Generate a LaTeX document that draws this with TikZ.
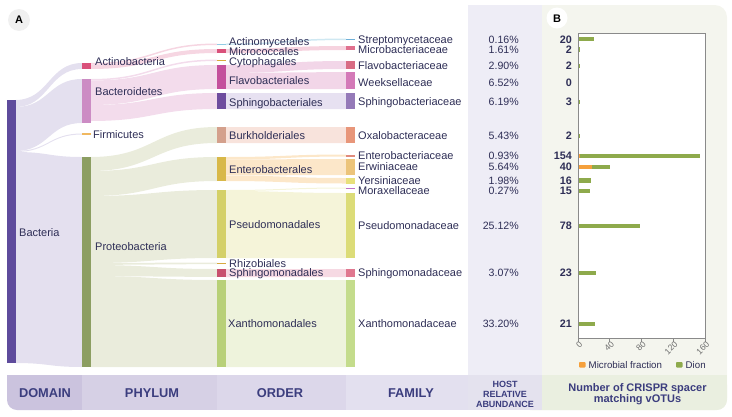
\documentclass[tikz,border=0pt]{standalone}
\usepackage{fontspec}
\setmainfont{Liberation Sans}
\definecolor{txt}{HTML}{2E2E56}
\definecolor{foottxt}{HTML}{3B3D7E}
\definecolor{hostbg}{HTML}{EEEDF6}
\definecolor{hostft}{HTML}{E4E2EE}
\definecolor{bpanel}{HTML}{F4F5EE}
\definecolor{bfoot}{HTML}{EAEFE0}
\definecolor{ftdom}{HTML}{CBC3DE}
\definecolor{ftphy}{HTML}{D6D0E5}
\definecolor{ftord}{HTML}{DCD7EA}
\definecolor{ftfam}{HTML}{E3E0EF}
\definecolor{barorange}{HTML}{F5A03C}
\definecolor{bargreen}{HTML}{8EAA4C}
\definecolor{axisgray}{HTML}{8A8A8A}
\definecolor{dombar}{HTML}{5E4B9C}
\tikzset{
  lbl/.style={font=\fontsize{11}{12}\selectfont, text=txt, inner sep=0pt, anchor=west, text height=7.9pt, text depth=0pt},
  pct/.style={font=\fontsize{10.6}{11}\selectfont, text=txt, inner sep=0pt, anchor=east, text height=7.6pt, text depth=0pt},
  cnt/.style={font=\bfseries\fontsize{10.8}{11}\selectfont, text=txt, inner sep=0pt, anchor=east, text height=7.7pt, text depth=0pt},
  foot/.style={font=\bfseries\fontsize{12.8}{13}\selectfont, text=foottxt, inner sep=0pt, align=center},
  tick/.style={font=\fontsize{8.5}{9}\selectfont, text=axisgray!80!black, inner sep=0pt, anchor=east, rotate=45},
}
\newcommand\flowband[7]{\definecolor{tmpflow}{HTML}{#7}\fill[tmpflow] (#1,#2) .. controls ({(#1+#4)/2},#2) and ({(#1+#4)/2},#5) .. (#4,#5) -- (#4,#6) .. controls ({(#1+#4)/2},#6) and ({(#1+#4)/2},#3) .. (#1,#3) -- cycle;}
\newcommand\nbar[4]{\definecolor{tmpbar}{HTML}{#4}\fill[tmpbar] (#1,#2) rectangle ({#1+8.5},#3);}
\begin{document}
\begin{tikzpicture}[x=1pt,y=-1pt]
\useasboundingbox (0,0) rectangle (732,416);
% panels
\fill[bpanel, rounded corners=12pt] (520,5) rectangle (727,410);
\fill[bfoot, rounded corners=10pt] (520,375) rectangle (727,410);
\fill[bfoot] (600,375) rectangle (727,392);
\fill[hostbg] (468,5) rectangle (542,375);
\fill[hostft] (468,375) rectangle (542,410);
\fill[ftdom] (7,375) rectangle (82,392);
\fill[ftdom, rounded corners=10pt] (7,380) -- (7,410) -- (82,410) -- (82,380) -- cycle;
\fill[ftdom] (60,380) rectangle (82,410);
\fill[ftphy] (82,375) rectangle (217,410);
\fill[ftord] (217,375) rectangle (346,410);
\fill[ftfam] (346,375) rectangle (468,410);
% panel letters
\fill[black!6] (19,20) circle (11pt);
\node[font=\bfseries\fontsize{11}{12}\selectfont, inner sep=0pt] (lA) at (19,20) {A};
\fill[white] (557,18) circle (10.5pt);
\node[font=\bfseries\fontsize{11}{12}\selectfont, inner sep=0pt] (lB) at (557,18.5) {B};
% domain -> phylum flows
\flowband{15.5}{100}{107}{82}{63}{69}{E4E0EF}
\flowband{15.5}{107}{151}{82}{79}{123}{E4E0EF}
\flowband{15.5}{151}{152}{82}{133.5}{134.5}{E4E0EF}
\flowband{15.5}{152}{363}{82}{157}{367}{E4E0EF}
% phylum -> order flows
\flowband{90.5}{63}{64.5}{217}{43.5}{45}{F6D6E2}
\flowband{90.5}{64.5}{69}{217}{49}{53}{F6D6E2}
\flowband{90.5}{79}{80.5}{217}{59.5}{61}{F3DCEC}
\flowband{90.5}{80.5}{105}{217}{65}{89}{F3DCEC}
\flowband{90.5}{105}{121}{217}{93}{109}{F3DCEC}
\flowband{90.5}{157}{171}{217}{127}{143}{EAECDC}
\flowband{90.5}{171}{196}{217}{157}{181}{EAECDC}
\flowband{90.5}{196}{263}{217}{190}{258}{EAECDC}
\flowband{90.5}{263}{265}{217}{262.5}{264}{EAECDC}
\flowband{90.5}{265}{276}{217}{269}{277}{EAECDC}
\flowband{90.5}{276}{367}{217}{280}{367}{EAECDC}
% order -> family flows
\flowband{225.5}{43.5}{45}{346}{38.5}{40}{CFE8F2}
\flowband{225.5}{49}{53}{346}{46}{50}{F6D3DF}
\flowband{225.5}{65}{73}{346}{61}{69}{F2D6E8}
\flowband{225.5}{73}{89}{346}{72}{89}{F2D6E8}
\flowband{225.5}{93}{109}{346}{93}{109}{E7E1F1}
\flowband{225.5}{127}{143}{346}{127}{143}{F8E3DC}
\flowband{225.5}{157}{159.5}{346}{154.5}{156.5}{FCE7C9}
\flowband{225.5}{159.5}{175.5}{346}{159}{175}{FCE7C9}
\flowband{225.5}{175.5}{181}{346}{178}{183.5}{FCE7C9}
\flowband{225.5}{190}{191}{346}{187.5}{188.5}{F5F4D9}
\flowband{225.5}{191}{258}{346}{193}{258}{F5F4D9}
\flowband{225.5}{269}{277}{346}{269}{277}{F6D9E3}
\flowband{225.5}{280}{367}{346}{280}{367}{EEF3DC}
% domain bar
\fill[dombar] (7,100) rectangle (15.5,363);
% phylum bars
\nbar{82}{63}{69}{D9507A}
\nbar{82}{79}{123}{CC8CC4}
\nbar{82}{133.3}{134.7}{F0B860}
\nbar{82}{157}{367}{8C9E62}
% order bars
\nbar{217}{43.5}{45}{90CCE4}
\nbar{217}{49}{53}{D9507A}
\nbar{217}{59.5}{61}{D8AA3A}
\nbar{217}{65}{89}{C4509C}
\nbar{217}{93}{109}{6E4C9E}
\nbar{217}{127}{143}{D4A08C}
\nbar{217}{157}{181}{D8B848}
\nbar{217}{190}{258}{D4D068}
\nbar{217}{262.5}{264}{D8AA40}
\nbar{217}{269}{277}{C8506E}
\nbar{217}{280}{367}{B8D078}
% family bars
\nbar{346}{38.5}{40}{6FB0D8}
\nbar{346}{46}{50}{E0708E}
\nbar{346}{61}{69}{D86C84}
\nbar{346}{72}{89}{D47AB8}
\nbar{346}{93}{109}{957AB8}
\nbar{346}{127}{143}{E8967A}
\nbar{346}{154.5}{156.5}{E08A7C}
\nbar{346}{159}{175}{ECC47A}
\nbar{346}{178}{183.5}{E8E07A}
\nbar{346}{187.5}{188.7}{C070C8}
\nbar{346}{193}{258}{DCDC78}
\nbar{346}{269}{277}{E07890}
\nbar{346}{280}{367}{C4DC8C}
% labels
\node[lbl] (bac) at (19,233) {Bacteria};
\node[lbl] (p1) at (95,62) {Actinobacteria};
\node[lbl] (p2) at (95,92) {Bacteroidetes};
\node[lbl] (p3) at (93,135) {Firmicutes};
\node[lbl] (p4) at (95,247) {Proteobacteria};
\node[lbl] (o1) at (229,42) {Actinomycetales};
\node[lbl] (o2) at (229,51.5) {Micrococcales};
\node[lbl] (o3) at (229,62) {Cytophagales};
\node[lbl] (o4) at (229,80.5) {Flavobacteriales};
\node[lbl] (o5) at (229,102.5) {Sphingobacteriales};
\node[lbl] (o6) at (229,135.5) {Burkholderiales};
\node[lbl] (o7) at (229,170) {Enterobacterales};
\node[lbl] (o8) at (229,225) {Pseudomonadales};
\node[lbl] (o9) at (229,264) {Rhizobiales};
\node[lbl] (o10) at (229,273) {Sphingomonadales};
\node[lbl] (o11) at (228,324) {Xanthomonadales};
\foreach \y/\fam/\pc/\n [count=\i] in {39.5/Streptomycetaceae/0.16/20, 50/Microbacteriaceae/1.61/2, 66/Flavobacteriaceae/2.90/2, 82.5/Weeksellaceae/6.52/0, 102/Sphingobacteriaceae/6.19/3, 136/Oxalobacteraceae/5.43/2, 156/Enterobacteriaceae/0.93/154, 167/Erwiniaceae/5.64/40, 180.5/Yersiniaceae/1.98/16, 191/Moraxellaceae/0.27/15, 226/Pseudomonadaceae/25.12/78, 273/Sphingomonadaceae/3.07/23, 324/Xanthomonadaceae/33.20/21}{
  \node[lbl] (f\i) at (358,\y) {\fam};
  \node[pct] (pc\i) at (519,\y) {\pc\%};
  \node[cnt] (n\i) at (572,\y) {\n};
}
% plot
\fill[white] (578,33) rectangle (705,338);
\foreach \y/\o/\g in {39/0/20, 49.5/0/2, 66/1/1, 102/0/3, 136/0/2, 156/2/152, 167/18/22, 180.5/0/16, 191/0/15, 226/0/78, 273/0/23, 324/0/21}{
  \fill[bargreen] ({578+\o*0.79375},\y-2.3) rectangle ({578+(\o+\g)*0.79375},\y+2.3);
  \ifnum\o>0 \fill[barorange] (578,\y-2.3) rectangle ({578+\o*0.79375},\y+2.3);\fi
}
\draw[axisgray, line width=0.8pt] (578,33) rectangle (705,338);
\foreach \v [count=\k from 0] in {0,40,80,120,160}{
  \draw[axisgray, line width=0.6pt] ({578+\k*31.75},338) -- ({578+\k*31.75},341.5);
  \node[tick] (t\k) at ({581+\k*31.75},343) {\v};
}
% legend
\fill[barorange, rounded corners=0.8pt] (579,362) rectangle (585.5,367.5);
\node[lbl, font=\fontsize{9.7}{10}\selectfont] (leg1) at (588.5,365) {Microbial fraction};
\fill[bargreen, rounded corners=0.8pt] (676,362) rectangle (682.5,367.5);
\node[lbl, font=\fontsize{9.7}{10}\selectfont] (leg2) at (685.5,365) {Dion};
% footer
\node[foot] (hd) at (45,393) {DOMAIN};
\node[foot] (hp) at (152,393) {PHYLUM};
\node[foot] (ho) at (280,393) {ORDER};
\node[foot] (hf) at (411,393) {FAMILY};
\node[foot, font=\bfseries\fontsize{9}{10}\selectfont] (hh) at (505,394) {HOST\\RELATIVE\\ABUNDANCE};
\node[foot, font=\bfseries\fontsize{11}{9.5}\selectfont] (hc) at (637.5,394.5) {Number of CRISPR spacer\\matching vOTUs};
\end{tikzpicture}
\end{document}
